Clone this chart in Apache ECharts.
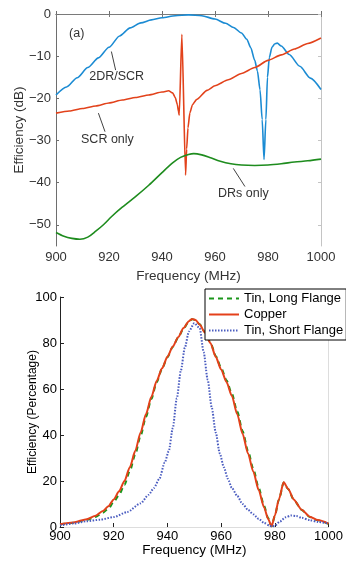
<!DOCTYPE html>
<html>
<head>
<meta charset="utf-8">
<script src="https://cdn.jsdelivr.net/npm/echarts@6/dist/echarts.min.js"></script>
<style>
html,body{margin:0;padding:0;background:#fff;}
#main{width:346px;height:566px;}
</style>
</head>
<body>
<div id="main"></div>
<script>
// (a) efficiency in dB
var freqDual = [900,904,908,912,916,920,924,928,932,936,940,945,950,955,960,964,967,970,972,973.5,975,976,977,977.8,978.5,979.2,979.8,980.5,981.5,982.5,983.5,985,988,992,996,1000];
var dualDR   = [-19.2,-17.3,-15.1,-12.7,-10.4,-7.9,-5.2,-3.3,-2.1,-1.4,-0.9,-0.4,-0.2,-0.4,-1.2,-2.2,-3.2,-4.5,-6,-8,-11,-13.5,-18,-25,-34.5,-25,-15,-10.3,-7.9,-7.1,-6.9,-7.6,-9.6,-12.4,-15.2,-17.9];

var freqScr = [900,905,910,915,920,925,930,935,940,942.5,944,945,945.8,946.2,946.5,947.5,948.9,949.3,949.8,950.5,951.5,953,957,960,965,970,975,980,985,990,995,1000];
var scrOnly = [-23.5,-23,-22.4,-21.8,-21.1,-20.4,-19.8,-19.2,-18.5,-18.2,-18.7,-19.8,-21.5,-23,-24,-4.8,-38.2,-32,-27,-23.5,-21.5,-20.3,-18.1,-17,-15.6,-14.1,-12.7,-11,-9.7,-8.3,-7,-5.7];

var freqDr = [900,903,906,909,912,915,918,921,925,930,935,940,944,947,950,952,955,958,962,966,970,975,980,985,990,995,1000];
var drOnly = [-51.8,-52.7,-53.2,-53.4,-52.9,-51.5,-49.9,-48,-45.8,-43.3,-40.6,-37.6,-35.3,-34,-33.3,-33.1,-33.4,-34,-34.9,-35.5,-35.8,-35.9,-35.8,-35.5,-35.1,-34.8,-34.4];

var dbTicks = [-50,-40,-30,-20,-10,0];

// annotations (data units)
var noteText  = ['2DR/SCR','SCR only','DRs only','(a)'];
var notePos   = [[922.9,-14.9],[919.4,-29.7],[970.7,-42.5],[907.8,-4.6]];
var arrowTail = [[922.5,-13.3],[918.5,-27.9],[971.3,-40.9]];
var arrowTip  = [[920.9,-8.9],[916,-23.5],[966.9,-36.6]];

// (b) efficiency in percent
var freqPct = [900,905,910,913,916,918,920,922,924,926,928,930,932,934,936,938,940,942,944,946,948,949.2,950.5,952,954,956,958,960,962,964,966,968,970,972,974,976,977.5,978.8,980,981.5,983.3,985,987,990,993,996,1000];
var tinLong = [1.1,1.8,3.1,4.3,6.2,8,10.8,14,18.3,24.3,31.4,39.6,47.8,55.6,62.9,68.8,73.8,78.3,82.3,86.3,89.4,90.3,90,88.1,84.7,80.3,74.4,69.2,63.8,58,50.2,41.7,33.2,25.2,17,9.2,3.9,0.3,4.8,11.8,19.3,16.4,11.9,7.4,4.4,2.9,1.4];
var copper  = [1.2,2,3.4,4.8,7,9,12,15.5,20,26,33,41,49,56.5,63.5,69,74,78.5,82.5,86.5,89.5,90.4,90,88,84.5,80,74,68.5,63,57,49,40.5,32,24,16,8.5,3.5,0.3,5,12,19.5,16.5,12,7.5,4.5,3,1.5];

var freqShort = [900,905,910,915,920,925,930,933,935,937,939,940.5,942,943.5,945,946.5,948,950,952,953.5,955,956.5,958,959.5,961,962.5,964,966,968,970,972,974,976,978,979,980,982,984,986,988,990,993,996,1000];
var tinShort  = [0.7,1.5,2.5,3.2,4.3,6.5,10.3,14,17,21,28,33,43,56,68,78,85,88.6,86.5,76,64,52,41,32,26,21,17,13.5,10,7.5,5.5,3.5,1.8,0.6,0.2,0.6,2.5,4.2,5,4.8,4,3,2.2,1.5];

function pairs(xs, ys){
	var out = [];
	for(var i=0;i<xs.length;i++){ out.push([xs[i], ys[i]]); }
	return out;
}
function minus(v){ return String(v).replace('-', '\u2212'); }
function plain(v){ return String(v); }

var FONT = 'Liberation Sans';
var chart = echarts.init(document.getElementById('main'));

function xAx(grid, pos, opt){
	return Object.assign({
		type:'value', gridIndex:grid, position:pos, min:900, max:1000, interval:20,
		splitLine:{show:false},
		axisTick:{inside:true, length:4},
		axisLabel:{show:false}
	}, opt);
}

var noteMarks = [];
for(var i=0;i<noteText.length;i++){
	noteMarks.push({name:noteText[i], coord:notePos[i]});
}
var arrowMarks = [];
for(var j=0;j<arrowTail.length;j++){
	arrowMarks.push([{coord:arrowTail[j]},{coord:arrowTip[j]}]);
}

chart.setOption({
	animation:false,
	grid:[
		{left:56, top:14, width:265, height:232},
		{left:60, top:297, width:270, height:230}
	],
	legend:{
		data:['Tin, Long Flange','Copper','Tin, Short Flange'],
		orient:'vertical', left:205, top:289,
		itemWidth:30, itemHeight:10, itemGap:3,
		padding:[3,3,3,3],
		itemStyle:{opacity:0, borderWidth:0},
		backgroundColor:'#fff', borderColor:'#000', borderWidth:1, borderRadius:0,
		textStyle:{fontFamily:FONT, fontSize:13, color:'#000'}
	},
	xAxis:[
		xAx(0,'bottom',{
			axisLine:{lineStyle:{color:'#6e6e6e'}},
			axisTick:{inside:true, length:3, lineStyle:{color:'#6e6e6e'}},
			axisLabel:{show:true, margin:5, formatter:plain, fontFamily:FONT, fontSize:13, color:'#333'},
			name:'Frequency (MHz)', nameLocation:'middle', nameGap:23, nameMoveOverlap:false,
			nameTextStyle:{fontFamily:FONT, fontSize:13.5, color:'#333'}
		}),
		xAx(0,'top',{
			axisLine:{lineStyle:{color:'#7a7a7a'}},
			axisTick:{inside:true, length:3, lineStyle:{color:'#7a7a7a'}}
		}),
		xAx(1,'bottom',{
			axisLine:{lineStyle:{color:'#222'}},
			axisTick:{inside:true, length:4, lineStyle:{color:'#222'}},
			axisLabel:{show:true, margin:3, formatter:plain, fontFamily:FONT, fontSize:13, color:'#000'},
			name:'Frequency (MHz)', nameLocation:'middle', nameGap:16, nameMoveOverlap:false,
			nameTextStyle:{fontFamily:FONT, fontSize:13.5, color:'#000'}
		}),
		xAx(1,'top',{
			axisLine:{lineStyle:{color:'#dddddd'}},
			axisTick:{show:false}
		})
	],
	yAxis:[
		{
			type:'value', gridIndex:0, position:'left', min:-55, max:0,
			splitLine:{show:false},
			axisLine:{show:true, lineStyle:{color:'#6e6e6e'}},
			axisTick:{inside:true, length:3, customValues:dbTicks, lineStyle:{color:'#6e6e6e'}},
			axisLabel:{margin:5, customValues:dbTicks, formatter:minus, fontFamily:FONT, fontSize:13, color:'#333'},
			name:'Efficiency (dB)', nameLocation:'middle', nameGap:30, nameRotate:90, nameMoveOverlap:false,
			nameTextStyle:{fontFamily:FONT, fontSize:13.5, color:'#333'}
		},
		{
			type:'value', gridIndex:0, position:'right', min:-55, max:0,
			splitLine:{show:false},
			axisLine:{show:true, lineStyle:{color:'#c4c4c4'}},
			axisTick:{inside:true, length:3, customValues:dbTicks, lineStyle:{color:'#c4c4c4'}},
			axisLabel:{show:false}
		},
		{
			type:'value', gridIndex:1, position:'left', min:0, max:100, interval:20,
			splitLine:{show:false},
			axisLine:{show:true, lineStyle:{color:'#222'}},
			axisTick:{inside:true, length:4, lineStyle:{color:'#222'}},
			axisLabel:{margin:3, fontFamily:FONT, fontSize:13, color:'#000'},
			name:'Efficiency (Percentage)', nameLocation:'middle', nameGap:21, nameRotate:90, nameMoveOverlap:false,
			nameTextStyle:{fontFamily:FONT, fontSize:12, color:'#000'}
		},
		{
			type:'value', gridIndex:1, position:'right', min:0, max:100, interval:20,
			splitLine:{show:false},
			axisLine:{show:true, lineStyle:{color:'#dddddd'}},
			axisTick:{show:false},
			axisLabel:{show:false}
		}
	],
	series:[
		{
			name:'2DR/SCR', type:'line', xAxisIndex:0, yAxisIndex:0, showSymbol:false,
			data:pairs(freqDual, dualDR), smooth:0.25, smoothMonotone:'x',
			lineStyle:{color:'#1b8bd3', width:1.6}, itemStyle:{color:'#1b8bd3'}
		},
		{
			name:'SCR only', type:'line', xAxisIndex:0, yAxisIndex:0, showSymbol:false,
			data:pairs(freqScr, scrOnly), smooth:0.2, smoothMonotone:'x',
			lineStyle:{color:'#e2421b', width:1.6}, itemStyle:{color:'#e2421b'}
		},
		{
			name:'DRs only', type:'line', xAxisIndex:0, yAxisIndex:0, showSymbol:false,
			data:pairs(freqDr, drOnly), smooth:0.3,
			lineStyle:{color:'#1e8c1e', width:1.6}, itemStyle:{color:'#1e8c1e'},
			markLine:{
				silent:true, symbol:['none','arrow'], symbolSize:[0,8],
				lineStyle:{color:'#111', width:0.8, type:'solid'},
				label:{show:false},
				data:arrowMarks
			},
			markPoint:{
				silent:true, symbol:'rect', symbolSize:1,
				itemStyle:{color:'rgba(0,0,0,0)'},
				label:{show:true, position:'inside', formatter:function(p){ return p.name; },
					fontFamily:FONT, fontSize:12.5, color:'#333'},
				data:noteMarks
			}
		},
		{
			name:'Tin, Long Flange', type:'line', xAxisIndex:2, yAxisIndex:2, showSymbol:false,
			data:pairs(freqPct, tinLong), smooth:0.25, smoothMonotone:'x',
			lineStyle:{color:'#1a961a', width:2, type:[5,4]}, itemStyle:{color:'#1a961a'}
		},
		{
			name:'Copper', type:'line', xAxisIndex:2, yAxisIndex:2, showSymbol:false,
			data:pairs(freqPct, copper), smooth:0.25, smoothMonotone:'x',
			lineStyle:{color:'#e4401a', width:2}, itemStyle:{color:'#e4401a'}
		},
		{
			name:'Tin, Short Flange', type:'line', xAxisIndex:2, yAxisIndex:2, showSymbol:false,
			data:pairs(freqShort, tinShort), smooth:0.25, smoothMonotone:'x',
			lineStyle:{color:'#4a5cc0', width:2, type:[1.5,1.5]}, itemStyle:{color:'#4a5cc0'}
		}
	]
});
</script>
</body>
</html>
